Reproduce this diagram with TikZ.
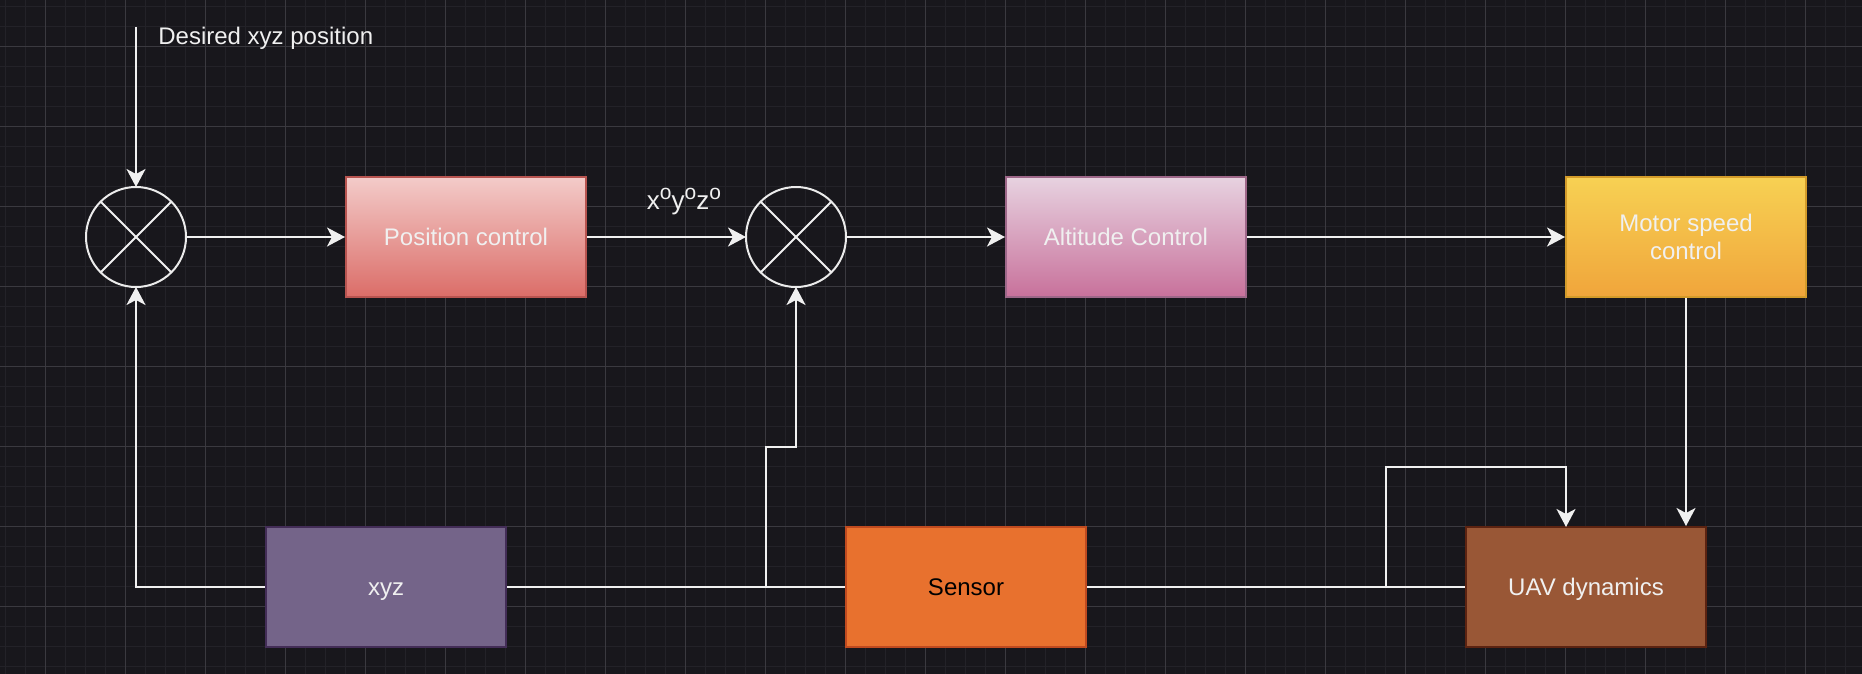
\documentclass[tikz,border=0pt]{standalone}
\usepackage{fontspec}
\setmainfont{Liberation Sans}
\usetikzlibrary{arrows.meta}

\definecolor{canvas}{HTML}{18171C}
\definecolor{gridminor}{HTML}{232228}
\definecolor{gridmajor}{HTML}{3A393F}
\definecolor{postop}{HTML}{F3CBC9}
\definecolor{posbot}{HTML}{DB6D68}
\definecolor{posline}{HTML}{B85450}
\definecolor{alttop}{HTML}{E7D2E0}
\definecolor{altbot}{HTML}{C8719B}
\definecolor{altline}{HTML}{9E6789}
\definecolor{mottop}{HTML}{F7D153}
\definecolor{motbot}{HTML}{F0A53B}
\definecolor{motline}{HTML}{D39B2A}
\definecolor{senfill}{HTML}{E8712E}
\definecolor{senline}{HTML}{BF4A1F}
\definecolor{uavfill}{HTML}{995736}
\definecolor{uavline}{HTML}{5C2311}
\definecolor{xyzfill}{HTML}{746489}
\definecolor{xyzline}{HTML}{432D57}

\tikzset{
    block/.style={draw, line width=1pt, minimum width=120pt, minimum height=60pt,
        inner sep=0pt, align=center, text=white!94!black,
        text height=10.5pt, text depth=2.5pt,
        font=\fontsize{12}{14}\selectfont},
    junction/.style={draw=white!92!black, circle, line width=1pt, minimum size=50pt,
        inner sep=0pt, outer sep=0pt},
    link/.style={white!94!black, line width=1pt},
    flow/.style={link, -{Stealth[length=9pt,width=9.5pt,inset=2.5pt]}},
    tag/.style={inner sep=0pt, text=white!94!black, font=\fontsize{12}{14}\selectfont},
}
\newcommand{\upo}{\raisebox{5pt}{\fontsize{10.5}{10.5}\selectfont o}}

\begin{document}
\begin{tikzpicture}[x=0.5pt, y=-0.5pt]
    \useasboundingbox (0,0) rectangle (1862,674);
    \fill[canvas] (0,0) rectangle (1862,674);
    \foreach \i in {0,...,92}
        \draw[gridminor, line width=0.6pt] ({5.7+20*\i},0) -- ++(0,674);
    \foreach \i in {0,...,33}
        \draw[gridminor, line width=0.6pt] (0,{6.7+20*\i}) -- ++(1862,0);
    \foreach \i in {0,...,22}
        \draw[gridmajor, line width=0.7pt] ({45.7+80*\i},0) -- ++(0,674);
    \foreach \i in {0,...,7}
        \draw[gridmajor, line width=0.7pt] (0,{46.7+80*\i}) -- ++(1862,0);

    \node[junction] (sum1) at (136,237) {};
    \node[junction] (sum2) at (796,237) {};
    \foreach \s in {sum1,sum2} {
        \draw[link] (\s.north west) -- (\s.south east);
        \draw[link] (\s.north east) -- (\s.south west);
    }

    \node[block, draw=posline, top color=postop, bottom color=posbot] (poscontrol) at (466,237) {Position control};
    \node[block, draw=altline, top color=alttop, bottom color=altbot] (altcontrol) at (1126,237) {Altitude Control};
    \node[block, draw=motline, top color=mottop, bottom color=motbot, text height={}, text depth={}] (motcontrol) at (1686,237) {Motor speed\\control};
    \node[block, draw=xyzline, fill=xyzfill] (xyz) at (386,587) {xyz};
    \node[block, draw=senline, fill=senfill, text=black] (sensor) at (966,587) {Sensor};
    \node[block, draw=uavline, fill=uavfill] (uav) at (1586,587) {UAV dynamics};

    \coordinate (ref) at (136,27);
    \node[tag, anchor=base west] (reflabel) at (158,45) {Desired xyz position};
    \node[tag, anchor=base, font=\fontsize{13}{15}\selectfont] (anglabel) at (684,209) {x\upo y\upo z\upo};

    \coordinate (tap1) at (766,587);
    \coordinate (tap2) at (1386,587);
    \coordinate (uavin) at (1566,527);

    \draw[flow] (ref) -- (sum1.north);
    \draw[flow] (sum1) -- (poscontrol);
    \draw[flow] (poscontrol) -- (sum2);
    \draw[flow] (sum2) -- (altcontrol);
    \draw[flow] (altcontrol) -- (motcontrol);
    \draw[flow] (motcontrol) -- (motcontrol |- uav.north);
    \draw[link] (sensor) -- (uav);
    \draw[flow] (tap2) -- (1386,467) -| (uavin);
    \draw[link] (xyz) -- (sensor);
    \draw[flow] (tap1) -- (766,447) -| (sum2.south);
    \draw[flow] (xyz.west) -| (sum1.south);
\end{tikzpicture}
\end{document}
